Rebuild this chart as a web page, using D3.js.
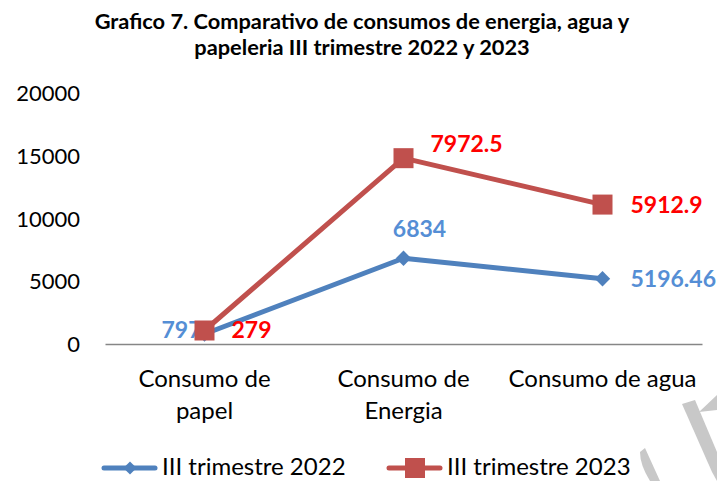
<!DOCTYPE html>
<html><head><meta charset="utf-8">
<script src="https://cdn.jsdelivr.net/npm/d3@7"></script>
<style>body{margin:0;background:#fff}svg{display:block}text{font-family:Lato,"Noto Sans",sans-serif}</style>
</head><body>
<svg id="c" width="717" height="481"></svg>
<script>
const categories = [["Consumo de","papel"],["Consumo de","Energia"],["Consumo de agua"]];
const series2022 = [797, 6834, 5196.46];
const series2023 = [279, 7972.5, 5912.9];
const seriesNames = ["III trimestre 2022","III trimestre 2023"];
const yTicks = [0,5000,10000,15000,20000];
const labels2022 = ["797","6834","5196.46"];
const labels2023 = ["279","7972.5","5912.9"];

const svg = d3.select("#c");
const blue="#4F81BD", red="#C0504D", blueLbl="#558ED5", redLbl="#FF0000";
const x = d3.scaleBand().domain(d3.range(categories.length)).range([105,702]);
const y = d3.scaleLinear().domain([0,20000]).range([344,93]);

const rows = categories.map((c,i)=>({i, a:series2022[i], b:series2023[i]}));
const stacked = d3.stack().keys(["a","b"])(rows);
const cx = i => x(i)+x.bandwidth()/2;

// title
const title = svg.append("text").attr("text-anchor","middle").attr("font-weight","bold").attr("font-size",21.8).attr("fill","#000");
title.append("tspan").attr("x",362).attr("y",29).text("Grafico 7. Comparativo de consumos de energia, agua y");
title.append("tspan").attr("x",362).attr("y",55).text("papeleria III trimestre 2022 y 2023");

// y axis labels
const ya = svg.append("g").attr("transform","translate(80,0)").call(d3.axisLeft(y).tickValues(yTicks).tickSize(0).tickPadding(0).tickFormat(d3.format("d")));
ya.select(".domain").remove();
ya.selectAll("text").attr("font-size",22).attr("font-family","Lato").attr("fill","#000").attr("dy","0.35em");

// x axis line
const xa = svg.append("g").attr("transform","translate(0,344)").call(d3.axisBottom(x).tickSize(0).tickFormat(""));
xa.select(".domain").attr("stroke","#868686").attr("stroke-width",1.5);

// category labels
categories.forEach((c,i)=>{
  const t = svg.append("text").attr("text-anchor","middle").attr("font-size",24).attr("fill","#000");
  c.forEach((ln,j)=>t.append("tspan").attr("x",cx(i)).attr("y",387+j*32).text(ln));
});

const line = d3.line().x(d=>cx(d.data.i)).y(d=>y(d[1]));
svg.append("path").datum(stacked[0]).attr("d",line).attr("fill","none").attr("stroke",blue).attr("stroke-width",5).attr("stroke-linejoin","round");
svg.append("path").datum(stacked[1]).attr("d",line).attr("fill","none").attr("stroke",red).attr("stroke-width",5).attr("stroke-linejoin","round");

const diamond = d3.symbol().type(d3.symbolDiamond2).size(150);
const diamondSm = d3.symbol().type(d3.symbolDiamond2).size(110);
svg.selectAll(".m1").data(stacked[0]).join("path").attr("d",diamond).attr("fill",blue)
  .attr("transform",d=>`translate(${cx(d.data.i)},${y(d[1])})`);
svg.selectAll(".m2").data(stacked[1]).join("rect").attr("fill",red)
  .attr("x",d=>cx(d.data.i)-10).attr("y",d=>y(d[1])-10).attr("width",20).attr("height",20);

// data labels
const lblPos2022 = [{dx:-3,dy:4,anchor:"end"},{dx:16,dy:-21,anchor:"middle"},{dx:28,dy:8,anchor:"start"}];
const lblPos2023 = [{dx:27,dy:7.5,anchor:"start"},{dx:27,dy:-6,anchor:"start"},{dx:28,dy:8.5,anchor:"start"}];
stacked[0].forEach((d,i)=>{
  const p=lblPos2022[i];
  svg.append("text").attr("x",cx(i)+p.dx).attr("y",y(d[1])+p.dy).attr("text-anchor",p.anchor)
    .attr("font-size",23).attr("font-weight","bold").attr("fill",blueLbl).text(labels2022[i]);
});
stacked[1].forEach((d,i)=>{
  const p=lblPos2023[i];
  svg.append("text").attr("x",cx(i)+p.dx).attr("y",y(d[1])+p.dy).attr("text-anchor",p.anchor)
    .attr("font-size",23).attr("font-weight","bold").attr("fill",redLbl).text(labels2023[i]);
});
// keep red square above the 797 label
svg.selectAll("rect").raise();

// legend
const lg = [{x:102,c:blue,sym:"d"},{x:387,c:red,sym:"s"}];
lg.forEach((l,k)=>{
  const g = svg.append("g");
  g.append("line").attr("x1",l.x+2).attr("x2",l.x+53).attr("y1",468).attr("y2",468).attr("stroke",l.c).attr("stroke-width",5).attr("stroke-linecap","round");
  if(l.sym==="d") g.append("path").attr("d",diamondSm).attr("fill",l.c).attr("transform",`translate(${l.x+28},468)`);
  else g.append("rect").attr("x",l.x+18).attr("y",458).attr("width",20).attr("height",20).attr("fill",l.c);
  g.append("text").attr("x",l.x+60).attr("y",475).attr("font-size",24).attr("fill","#000").text(seriesNames[k]);
});

// background watermark shapes
svg.append("path").attr("d","M682,404 L695,400 L717,452 L717,481 L712,472 Z").attr("fill","#c8c8c8");
svg.append("path").attr("d","M699,412 L717,395 L717,410 Z").attr("fill","#c8c8c8");
svg.append("path").attr("d","M640,452 L645,448 L660,481 L650,481 Q640,465 640,452 Z").attr("fill","#c8c8c8");
</script>
</body></html>
